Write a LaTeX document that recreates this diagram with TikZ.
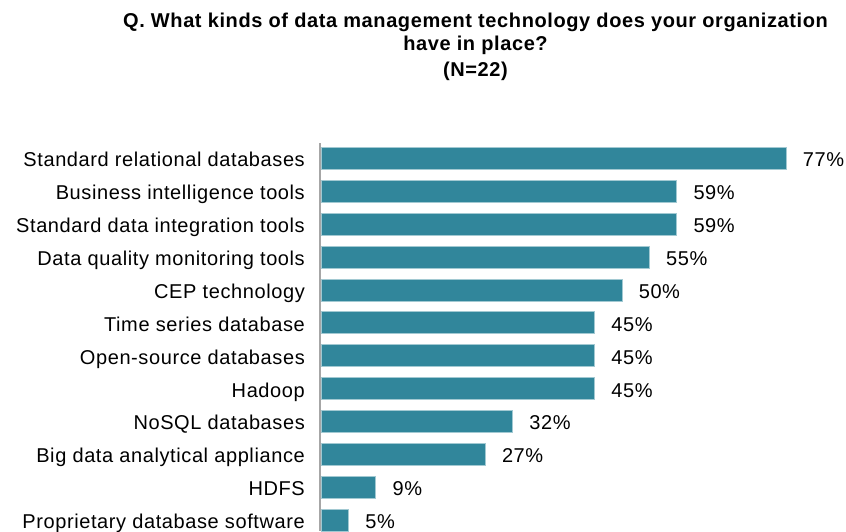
\documentclass[tikz,border=0pt]{standalone}
\usepackage{fontspec}
\setmainfont[LetterSpace=3]{Liberation Sans}
\definecolor{teal}{HTML}{31869B}
\definecolor{axisgray}{HTML}{A6A6A6}
\tikzset{
	lbl/.style={anchor=base east, inner sep=0pt},
	pct/.style={anchor=base west, inner sep=0pt},
	ttl/.style={anchor=base, inner sep=0pt, font=\fontsize{20}{24}\selectfont\bfseries},
	bar/.style={fill=teal, draw=teal!45!white, line width=.8pt},
}
\begin{document}
\begin{tikzpicture}[x=1pt, y=-1pt, font=\fontsize{20}{24}\selectfont]
	\useasboundingbox (0,0) rectangle (846,531);
	\path
		(475.5,27) node[ttl] (t1) {Q. What kinds of data management technology does your organization}
		(475.5,50) node[ttl] (t2) {have in place?}
		(475.5,76) node[ttl] (t3) {(N=22)}
	;

	% bars, 27.35 per respondent
	\draw[bar] (321,147.3) rectangle ++(465.0,22);
	\draw[bar] (321,180.2) rectangle ++(355.6,22);
	\draw[bar] (321,213.1) rectangle ++(355.6,22);
	\draw[bar] (321,246.0) rectangle ++(328.2,22);
	\draw[bar] (321,278.9) rectangle ++(300.9,22);
	\draw[bar] (321,311.8) rectangle ++(273.5,22);
	\draw[bar] (321,344.7) rectangle ++(273.5,22);
	\draw[bar] (321,377.6) rectangle ++(273.5,22);
	\draw[bar] (321,410.5) rectangle ++(191.5,22);
	\draw[bar] (321,443.4) rectangle ++(164.1,22);
	\draw[bar] (321,476.3) rectangle ++(54.7,22);
	\draw[bar] (321,509.2) rectangle ++(27.4,22);

	\draw[axisgray, line width=1.5pt] (320.2,143) -- (320.2,531);

	\path
		(305,166.7) node[lbl] (l1) {Standard relational databases}
		(305,199.6) node[lbl] (l2) {Business intelligence tools}
		(305,232.5) node[lbl] (l3) {Standard data integration tools}
		(305,265.4) node[lbl] (l4) {Data quality monitoring tools}
		(305,298.3) node[lbl] (l5) {CEP technology}
		(305,331.2) node[lbl] (l6) {Time series database}
		(305,364.1) node[lbl] (l7) {Open-source databases}
		(305,397.0) node[lbl] (l8) {Hadoop}
		(305,429.9) node[lbl] (l9) {NoSQL databases}
		(305,462.8) node[lbl] (l10) {Big data analytical appliance}
		(305,495.7) node[lbl] (l11) {HDFS}
		(305,528.6) node[lbl] (l12) {Proprietary database software}
	;

	\path
		(802.7,166.7) node[pct] (p1) {77\%}
		(693.3,199.6) node[pct] (p2) {59\%}
		(693.3,232.5) node[pct] (p3) {59\%}
		(665.9,265.4) node[pct] (p4) {55\%}
		(638.6,298.3) node[pct] (p5) {50\%}
		(611.2,331.2) node[pct] (p6) {45\%}
		(611.2,364.1) node[pct] (p7) {45\%}
		(611.2,397.0) node[pct] (p8) {45\%}
		(529.2,429.9) node[pct] (p9) {32\%}
		(501.8,462.8) node[pct] (p10) {27\%}
		(392.4,495.7) node[pct] (p11) {9\%}
		(365.1,528.6) node[pct] (p12) {5\%}
	;
\end{tikzpicture}
\end{document}
